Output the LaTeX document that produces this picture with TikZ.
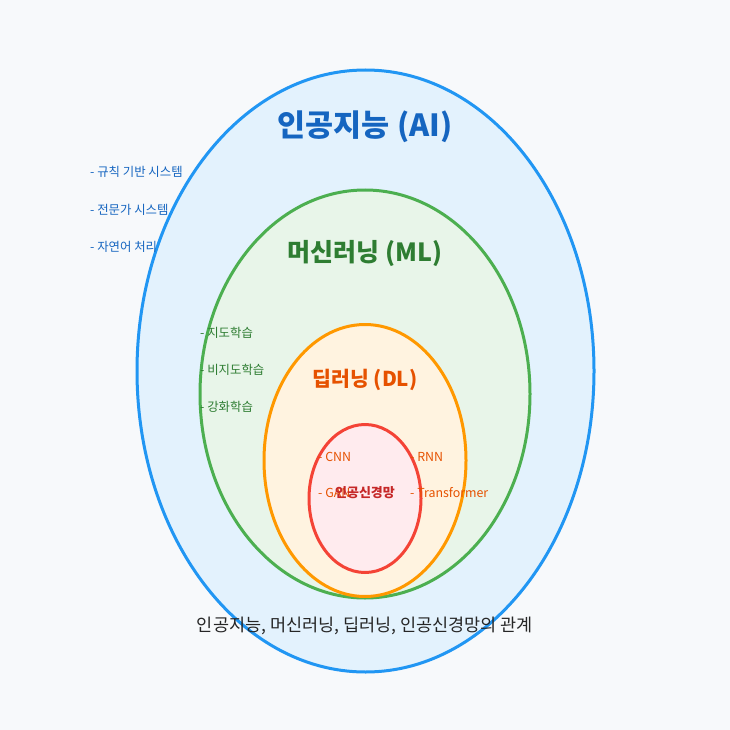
\documentclass[tikz,border=0pt]{standalone}
\usepackage{fontspec}
\setmainfont{Noto Sans CJK KR}
\definecolor{bg}{HTML}{F7F9FB}
\definecolor{aiS}{HTML}{2196F3}\definecolor{aiF}{HTML}{E3F2FD}\definecolor{aiT}{HTML}{1565C0}
\definecolor{mlS}{HTML}{4CAF50}\definecolor{mlF}{HTML}{E8F5E9}\definecolor{mlT}{HTML}{2E7D32}
\definecolor{dlS}{HTML}{FF9800}\definecolor{dlF}{HTML}{FFF3E0}\definecolor{dlT}{HTML}{E65100}
\definecolor{nnS}{HTML}{F44336}\definecolor{nnF}{HTML}{FFEBEE}\definecolor{nnT}{HTML}{C62828}
\begin{document}
\begin{tikzpicture}[x=1pt,y=-1pt,
  ring/.style={line width=3pt},
  item/.style={anchor=west,inner sep=0pt,font=\fontsize{12.4}{14}\selectfont},
  title/.style={inner sep=0pt,font=\bfseries}]
\useasboundingbox[fill=bg] (0,0) rectangle (730,730);
\draw[ring,draw=aiS,fill=aiF] (365.5,371) ellipse [x radius=228.5,y radius=301];
\draw[ring,draw=mlS,fill=mlF] (365,394) ellipse [x radius=165,y radius=204];
\draw[ring,draw=dlS,fill=dlF] (365,460.5) ellipse [x radius=101,y radius=136];
\draw[ring,draw=nnS,fill=nnF] (365,498.5) ellipse [x radius=56,y radius=74];
\node[title,text=aiT,font=\fontsize{30.5}{34}\selectfont\bfseries] (ai) at (365,127) {인공지능 (AI)};
\node[title,text=mlT,font=\fontsize{25}{29}\selectfont\bfseries] (ml) at (365,253) {머신러닝 (ML)};
\node[title,text=dlT,font=\fontsize{20.5}{24}\selectfont\bfseries] (dl) at (365,380) {딥러닝 (DL)};
\node[item,text=aiT] (a1) at (90,172) {- 규칙 기반 시스템};
\node[item,text=aiT] (a2) at (90,210) {- 전문가 시스템};
\node[item,text=aiT] (a3) at (90,247) {- 자연어 처리};
\node[item,text=mlT] (m1) at (200,333) {- 지도학습};
\node[item,text=mlT] (m2) at (200,370) {- 비지도학습};
\node[item,text=mlT] (m3) at (200,407) {- 강화학습};
\node[item,text=dlT] (d1) at (318,457) {- CNN};
\node[item,text=dlT] (d2) at (318,493) {- GAN};
\node[item,text=dlT] (d3) at (410,457) {- RNN};
\node[item,text=dlT] (d4) at (410,493) {- Transformer};
\node[title,text=nnT,font=\fontsize{13}{15}\selectfont\bfseries] (nn) at (365,493) {인공신경망};
\node[inner sep=0pt,text=black!85,font=\fontsize{17.5}{20}\selectfont] (cap) at (365,626) {인공지능, 머신러닝, 딥러닝, 인공신경망의 관계};
\end{tikzpicture}
\end{document}
